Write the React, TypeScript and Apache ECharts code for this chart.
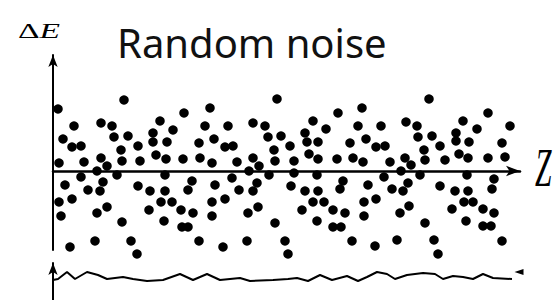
import { useEffect, useRef } from "react";
import * as echarts from "echarts";

// Dots of the random noise field: [z position, ΔE value]
const period1Dots: [number, number][] = [
  [71, 71], [5, 62], [131, 58], [48, 48], [21, 45], [59, 45], [107, 50], [120, 41], [100, 38],
  [61, 34], [75, 35], [10, 32], [100, 29], [114, 29], [146, 28], [85, 25], [19, 24], [28, 25],
  [68, 21], [103, 16], [48, 13], [113, 12], [130, 12], [6, 8], [31, 9], [69, 10], [87, 10],
  [54, 5], [147, 13], [44, 0],
  [28, -6], [64, -4], [112, -4], [12, -14], [50, -11], [85, -15], [139, -10], [35, -19],
  [47, -20], [97, -20], [112, -20], [135, -19], [6, -31], [19, -28], [108, -31], [119, -31],
  [54, -36], [44, -42], [96, -39], [128, -39], [140, -42], [8, -45], [69, -51], [111, -50],
  [129, -56], [135, -56], [42, -70], [78, -70], [146, -70], [17, -76], [84, -83],
];

const period2Dots: [number, number][] = [
  [224, 72], [157, 63], [285, 58], [152, 45], [175, 45], [200, 48], [212, 45], [260, 50],
  [273, 42], [252, 38], [161, 32], [215, 34], [228, 35], [254, 29], [265, 29], [297, 28],
  [237, 25], [172, 24], [180, 25], [221, 21], [256, 17], [200, 13], [265, 12], [284, 12],
  [159, 8], [184, 9], [222, 10], [241, 10], [206, 5], [300, 13], [196, 0], [241, -2],
  [179, -7], [216, -4], [264, -4], [162, -14], [204, -12], [238, -15], [290, -10], [186, -19],
  [200, -20], [252, -20], [265, -20], [287, -18], [159, -31], [172, -28], [260, -31], [271, -31],
  [205, -36], [195, -42], [249, -39], [280, -39], [292, -42], [159, -45], [222, -52], [264, -50],
  [280, -56], [288, -56], [194, -70], [232, -70], [299, -70], [170, -76], [235, -83],
];

const period3Dots: [number, number][] = [
  [376, 72], [309, 63], [435, 58], [305, 45], [328, 45], [353, 49], [364, 45], [410, 50],
  [424, 42], [403, 38], [313, 32], [365, 34], [379, 35], [403, 30], [416, 29], [449, 28],
  [387, 25], [323, 24], [332, 25], [371, 21], [406, 17], [352, 13], [415, 13], [435, 13],
  [310, 9], [337, 9], [372, 11], [392, 11], [358, 6], [457, 45], [452, 14], [348, 0],
  [331, -6], [367, -4], [414, -4], [441, -8], [315, -14], [355, -12], [387, -15], [439, -18],
  [339, -18], [350, -20], [402, -20], [415, -20], [311, -31], [323, -28], [411, -31], [420, -31],
  [356, -35], [347, -42], [399, -38], [430, -38], [441, -42], [311, -45], [372, -52], [413, -50],
  [430, -55], [438, -55], [344, -69], [381, -69], [449, -70], [322, -75], [385, -83],
];

// Lower trace (averaged signal)
const waveLine: [number, number][] = [
  [0, 20], [5, 21], [14, 28], [22, 21], [34, 28], [45, 25], [54, 21], [70, 23], [80, 21],
  [94, 19], [110, 20], [127, 26], [140, 20], [154, 26], [167, 20], [187, 22], [197, 19],
  [220, 20], [235, 21], [244, 22], [255, 19], [267, 25], [279, 20], [294, 24], [305, 19],
  [314, 23], [324, 28], [334, 26], [342, 21], [354, 25], [370, 27], [382, 26], [390, 21],
  [400, 24], [410, 23], [420, 21], [430, 26], [440, 22], [459, 21],
];
const waveEndMarker: [number, number][] = [[466, 28]];

const titleText = "Random noise";
const xName = "Z";

export default function App() {
  const ref = useRef<HTMLDivElement>(null);
  useEffect(() => {
    const chart = echarts.init(ref.current!, null, { renderer: "svg" });
    const axisLineStyle = { color: "#000", width: 2 };
    const dotSeries = (data: [number, number][]) => ({
      type: "scatter",
      xAxisIndex: 0,
      yAxisIndex: 0,
      data,
      symbol: "circle",
      symbolSize: 9.5,
      clip: false,
      itemStyle: { color: "#000", opacity: 1 },
      silent: true,
    });
    chart.setOption({
      animation: false,
      backgroundColor: "#fff",
      title: {
        text: titleText,
        left: 117,
        top: 22,
        padding: 0,
        textStyle: { fontFamily: "Noto Sans", fontSize: 40, fontWeight: "normal", color: "#111" },
      },
      grid: [
        { left: 53, top: 55, width: 467, height: 195 },
        { left: 53, top: 263, width: 467, height: 37 },
      ],
      xAxis: [
        {
          gridIndex: 0,
          type: "value",
          min: 0,
          max: 467,
          axisLine: {
            show: true,
            onZero: true,
            lineStyle: { color: "#000", width: 2.5 },
            symbol: ["none", "arrow"],
            symbolSize: [8, 14],
          },
          axisTick: { show: false },
          axisLabel: { show: false },
          splitLine: { show: false },
        },
        { gridIndex: 1, type: "value", min: 0, max: 467, show: false },
      ],
      yAxis: [
        {
          gridIndex: 0,
          type: "value",
          min: -79,
          max: 116,
          axisLine: {
            show: true,
            lineStyle: axisLineStyle,
            symbol: ["none", "arrow"],
            symbolSize: [7, 12],
          },
          axisTick: { show: false },
          axisLabel: { show: false },
          splitLine: { show: false },
        },
        {
          gridIndex: 1,
          type: "value",
          min: 0,
          max: 37,
          axisLine: {
            show: true,
            lineStyle: axisLineStyle,
            symbol: ["none", "arrow"],
            symbolSize: [7, 12],
          },
          axisTick: { show: false },
          axisLabel: { show: false },
          splitLine: { show: false },
        },
      ],
      graphic: [
        {
          type: "text",
          x: 18,
          y: 31,
          scaleX: 1.6,
          style: {
            text: "{d|Δ}{e|E}",
            verticalAlign: "middle",
            align: "left",
            rich: {
              d: { fontFamily: "Liberation Serif", fontSize: 21, fill: "#000" },
              e: { fontFamily: "Liberation Serif", fontStyle: "italic", fontSize: 21, fill: "#000" },
            },
          },
        },
        {
          type: "text",
          x: 535,
          y: 167,
          scaleX: 0.55,
          style: {
            text: xName,
            fontFamily: "Liberation Serif",
            fontStyle: "italic",
            fontSize: 54,
            fill: "#000",
            align: "left",
            verticalAlign: "middle",
          },
        },
      ],
      series: [
        dotSeries(period1Dots),
        dotSeries(period2Dots),
        dotSeries(period3Dots),
        {
          type: "line",
          xAxisIndex: 1,
          yAxisIndex: 1,
          data: waveLine,
          showSymbol: false,
          clip: false,
          lineStyle: { color: "#000", width: 2 },
          silent: true,
        },
        {
          type: "scatter",
          xAxisIndex: 1,
          yAxisIndex: 1,
          data: waveEndMarker,
          symbol: "triangle",
          symbolRotate: 90,
          symbolSize: [6, 9],
          clip: false,
          itemStyle: { color: "#000", opacity: 1 },
          silent: true,
        },
      ],
    });
    return () => chart.dispose();
  }, []);
  return (
    <div
      ref={ref}
      style={{ position: "absolute", left: 0, top: 0, width: 554, height: 300, background: "#fff" }}
    />
  );
}
